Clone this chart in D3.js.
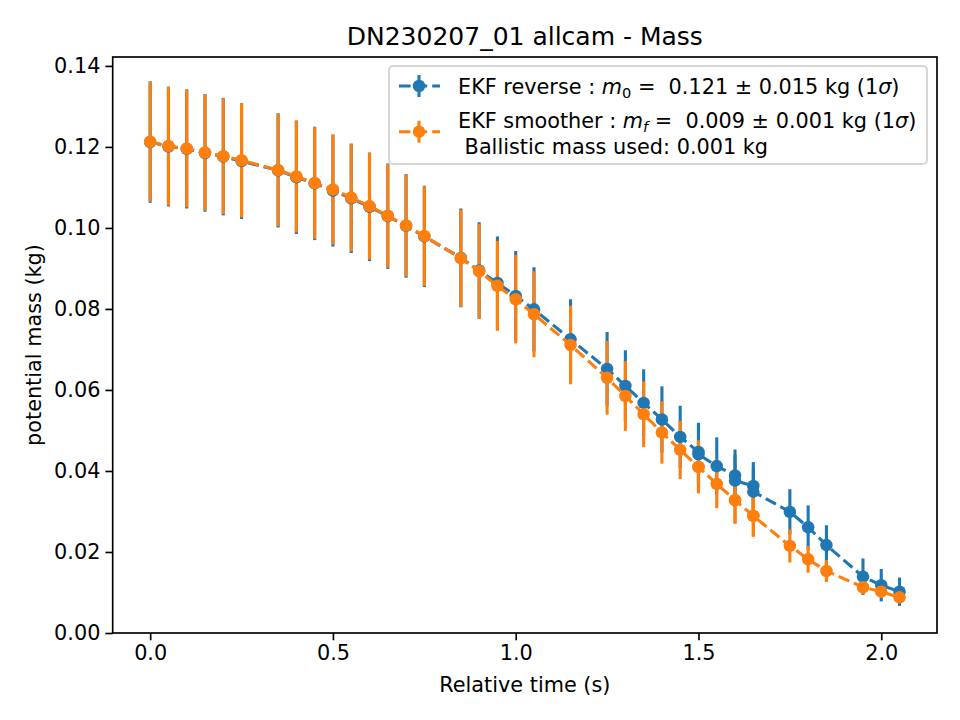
<!DOCTYPE html>
<html lang="en">
<head>
    <meta charset="UTF-8">
    <title>DN230207_01 allcam - Mass</title>
    <style>
        body { margin: 0; background: #ffffff; }
        svg { font-family: "DejaVu Sans", sans-serif; }
    </style>
    <script src="https://d3js.org/d3.v7.min.js"></script>
</head>
<body>
<div id="chart"></div>
<script>
    // Relative time of each fix (s); some times appear twice
    var times = [0, 0.05, 0.1, 0.15, 0.2, 0.25, 0.35, 0.4, 0.45, 0.5, 0.55, 0.6, 0.65, 0.7, 0.75,
        0.85, 0.9, 0.95, 1.0, 1.05, 1.15, 1.25, 1.3, 1.35, 1.4, 1.45, 1.5, 1.5, 1.55, 1.6, 1.6,
        1.65, 1.65, 1.75, 1.8, 1.85, 1.95, 2.0, 2.05];

    // EKF reverse mass (kg) and 1 sigma
    var reverseMass = [0.1212, 0.1201, 0.1195, 0.1185, 0.1176, 0.1165, 0.1142, 0.1125, 0.1110, 0.1092,
        0.1073, 0.1052, 0.1029, 0.1005, 0.0979, 0.0926, 0.0895, 0.0864, 0.0832, 0.0799, 0.0725,
        0.0652, 0.0610, 0.0568, 0.0527, 0.0484, 0.0447, 0.0441, 0.0412, 0.0389, 0.0376, 0.0363,
        0.0349, 0.0299, 0.0261, 0.0217, 0.0139, 0.0118, 0.0102];
    var reverseErr = [0.0150, 0.0148, 0.0147, 0.0145, 0.0145, 0.0143, 0.0141, 0.0140, 0.0140, 0.0138,
        0.0135, 0.0134, 0.0130, 0.0128, 0.0125, 0.0122, 0.0119, 0.0115, 0.0111, 0.0104, 0.0099,
        0.0091, 0.0088, 0.0083, 0.0082, 0.0077, 0.0072, 0.0072, 0.0071, 0.0064, 0.0064, 0.0059,
        0.0059, 0.0056, 0.0054, 0.0049, 0.0045, 0.0040, 0.0035];

    // EKF smoother mass (kg) and 1 sigma
    var smootherMass = [0.1213, 0.1202, 0.1196, 0.1186, 0.1177, 0.1167, 0.1143, 0.1127, 0.1111, 0.1095,
        0.1075, 0.1054, 0.1030, 0.1006, 0.0980, 0.0925, 0.0893, 0.0857, 0.0824, 0.0787, 0.0711,
        0.0630, 0.0585, 0.0540, 0.0495, 0.0452, 0.0410, 0.0410, 0.0368, 0.0328, 0.0328, 0.0289,
        0.0289, 0.0215, 0.0182, 0.0153, 0.0113, 0.0102, 0.0088];
    var smootherErr = [0.0148, 0.0146, 0.0145, 0.0143, 0.0143, 0.0141, 0.0139, 0.0138, 0.0138, 0.0136,
        0.0133, 0.0132, 0.0128, 0.0126, 0.0123, 0.0120, 0.0117, 0.0111, 0.0109, 0.0106, 0.0097,
        0.0091, 0.0086, 0.0081, 0.0077, 0.0072, 0.0065, 0.0065, 0.0060, 0.0058, 0.0058, 0.0051,
        0.0051, 0.0041, 0.0033, 0.0027, 0.0017, 0.0014, 0.0010];

    var xTicks = [0, 0.5, 1.0, 1.5, 2.0];
    var yTicks = [0, 0.02, 0.04, 0.06, 0.08, 0.10, 0.12, 0.14];

    var blue = "#1f77b4";
    var orange = "#ff7f0e";

    var width = 960, height = 720;
    var margin = {left: 112.7, top: 57, right: 23, bottom: 87};
    var plotW = width - margin.left - margin.right;
    var plotH = height - margin.top - margin.bottom;

    var svg = d3.select("#chart").append("svg")
        .attr("width", width)
        .attr("height", height);

    var xScale = d3.scaleLinear().domain([-0.1025, 2.1525]).range([0, plotW]);
    var yScale = d3.scaleLinear().domain([0, 0.1422]).range([plotH, 0]);

    var g = svg.append("g").attr("transform", "translate(" + margin.left + "," + margin.top + ")");

    // build the two series
    function makeSeries(mass, err) {
        return times.map(function (t, i) { return {t: t, m: mass[i], e: err[i]}; });
    }
    var reverse = makeSeries(reverseMass, reverseErr);
    var smoother = makeSeries(smootherMass, smootherErr);

    var lw = 3.1;
    var dash = "11.6,5";
    var markerR = 6.25;

    // error bars first (both series), then lines and markers on top
    function drawBars(data, color) {
        g.append("g").selectAll("line")
            .data(data)
            .enter()
            .append("line")
            .attr("x1", d => xScale(d.t))
            .attr("x2", d => xScale(d.t))
            .attr("y1", d => yScale(d.m - d.e))
            .attr("y2", d => yScale(d.m + d.e))
            .attr("stroke", color)
            .attr("stroke-width", lw);
    }

    function drawLine(data, color) {
        var line = d3.line().x(d => xScale(d.t)).y(d => yScale(d.m));
        g.append("path")
            .datum(data)
            .attr("d", line)
            .attr("fill", "none")
            .attr("stroke", color)
            .attr("stroke-width", lw)
            .attr("stroke-dasharray", dash);
        g.append("g").selectAll("circle")
            .data(data)
            .enter()
            .append("circle")
            .attr("cx", d => xScale(d.t))
            .attr("cy", d => yScale(d.m))
            .attr("r", markerR)
            .attr("fill", color);
    }

    drawBars(reverse, blue);
    drawBars(smoother, orange);
    drawLine(reverse, blue);
    drawLine(smoother, orange);

    // axes
    var xAxis = d3.axisBottom(xScale).tickValues(xTicks).tickFormat(d3.format(".1f")).tickSizeInner(7.3).tickSizeOuter(0).tickPadding(5);
    var yAxis = d3.axisLeft(yScale).tickValues(yTicks).tickFormat(d3.format(".2f")).tickSizeInner(7.3).tickSizeOuter(0).tickPadding(5);

    var gx = g.append("g").attr("transform", "translate(0," + plotH + ")").call(xAxis);
    var gy = g.append("g").call(yAxis);
    [gx, gy].forEach(function (ax) {
        ax.select(".domain").remove();
        ax.selectAll(".tick line").attr("stroke", "#000").attr("stroke-width", 1.67);
        ax.selectAll(".tick text").attr("fill", "#000").style("font-size", "20.8px").style("font-family", "DejaVu Sans");
    });

    // frame
    g.append("rect")
        .attr("width", plotW)
        .attr("height", plotH)
        .attr("fill", "none")
        .attr("stroke", "#000")
        .attr("stroke-width", 1.67);

    // title and labels
    svg.append("text")
        .attr("x", margin.left + plotW / 2)
        .attr("y", 45)
        .attr("text-anchor", "middle")
        .style("font-size", "25px")
        .text("DN230207_01 allcam - Mass");

    svg.append("text")
        .attr("x", margin.left + plotW / 2)
        .attr("y", 692)
        .attr("text-anchor", "middle")
        .style("font-size", "20.8px")
        .text("Relative time (s)");

    svg.append("text")
        .attr("transform", "translate(41," + (margin.top + plotH / 2) + ") rotate(-90)")
        .attr("text-anchor", "middle")
        .style("font-size", "20.8px")
        .text("potential mass (kg)");

    // legend
    var legend = svg.append("g");
    legend.append("rect")
        .attr("x", 389)
        .attr("y", 66)
        .attr("width", 538)
        .attr("height", 98)
        .attr("rx", 4)
        .attr("fill", "#ffffff")
        .attr("fill-opacity", 0.8)
        .attr("stroke", "#d6d6d6")
        .attr("stroke-width", 2);

    function legendHandle(y, color) {
        legend.append("line")
            .attr("x1", 398).attr("x2", 440)
            .attr("y1", y).attr("y2", y)
            .attr("stroke", color)
            .attr("stroke-width", lw)
            .attr("stroke-dasharray", "11.6,5")
            .attr("stroke-dashoffset", -1);
        legend.append("line")
            .attr("x1", 419).attr("x2", 419)
            .attr("y1", y - 11).attr("y2", y + 11)
            .attr("stroke", color)
            .attr("stroke-width", lw);
        legend.append("circle")
            .attr("cx", 419).attr("cy", y)
            .attr("r", markerR)
            .attr("fill", color);
    }
    legendHandle(86, blue);
    legendHandle(131.7, orange);

    function mathLabel(y, prefix, sub, rest) {
        var t = legend.append("text")
            .attr("x", 458)
            .attr("y", y)
            .style("font-size", "20.8px")
            .style("white-space", "pre");
        t.append("tspan").text(prefix);
        t.append("tspan").style("font-style", "italic").text("m");
        t.append("tspan").attr("dy", 4).style("font-size", "14.6px").style("font-style", sub === "f" ? "italic" : "normal").text(sub);
        t.append("tspan").attr("dy", -4).text(rest);
        t.append("tspan").style("font-style", "italic").text("σ");
        t.append("tspan").text(")");
    }
    mathLabel(93.5, "EKF reverse : ", "0", " =  0.121 ± 0.015 kg (1");
    mathLabel(128, "EKF smoother : ", "f", " =  0.009 ± 0.001 kg (1");
    legend.append("text")
        .attr("x", 458)
        .attr("y", 153.5)
        .style("font-size", "20.8px")
        .style("white-space", "pre")
        .text(" Ballistic mass used: 0.001 kg");
</script>
</body>
</html>
